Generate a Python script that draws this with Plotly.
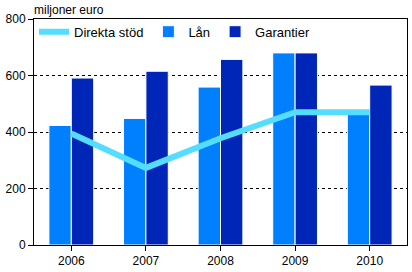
import plotly.graph_objects as go

years = ["2006", "2007", "2008", "2009", "2010"]
direkta_stod = [395, 273, 378, 470, 470]
lan = [423, 448, 559, 680, 465]
garantier = [591, 615, 657, 680, 566]

fig = go.Figure()
fig.add_trace(go.Scatter(x=years, y=direkta_stod, name="Direkta stöd", mode="lines",
                         line=dict(color="#55DDFF", width=6)))
fig.add_trace(go.Bar(x=years, y=lan, name="Lån", marker=dict(color="#0080FF", line=dict(color="white", width=1))))
fig.add_trace(go.Bar(x=years, y=garantier, name="Garantier", marker=dict(color="#0026B8", line=dict(color="white", width=1))))

fig.update_layout(
    width=412, height=272,
    margin=dict(l=34, r=4, t=19, b=24),
    paper_bgcolor="white", plot_bgcolor="white",
    font=dict(family="Liberation Sans, Arial, sans-serif", size=12, color="black"),
    barmode="group", bargap=0.4, bargroupgap=0,
    showlegend=True,
    legend=dict(orientation="h", x=0.0, y=1.01, xanchor="left", yanchor="top",
                bgcolor="rgba(0,0,0,0)", font=dict(size=13), traceorder="normal",
                tracegroupgap=0),
    annotations=[dict(text="miljoner euro", xref="paper", yref="paper", x=0, y=1,
                      xanchor="left", yanchor="bottom", showarrow=False,
                      font=dict(size=12), xshift=-2)],
)
fig.update_xaxes(showline=True, linecolor="black", linewidth=1, mirror=True,
                 ticks="outside", ticklen=5, tickcolor="black", showgrid=False,
                 tickfont=dict(size=12))
fig.update_yaxes(range=[0, 800], tickvals=[0, 200, 400, 600, 800],
                 showline=True, linecolor="black", linewidth=1, mirror=True,
                 ticks="outside", ticklen=5, tickcolor="black",
                 showgrid=True, gridcolor="black", griddash="3px,3px", gridwidth=1,
                 zeroline=False, tickfont=dict(size=12))

fig.write_html("out.html")
